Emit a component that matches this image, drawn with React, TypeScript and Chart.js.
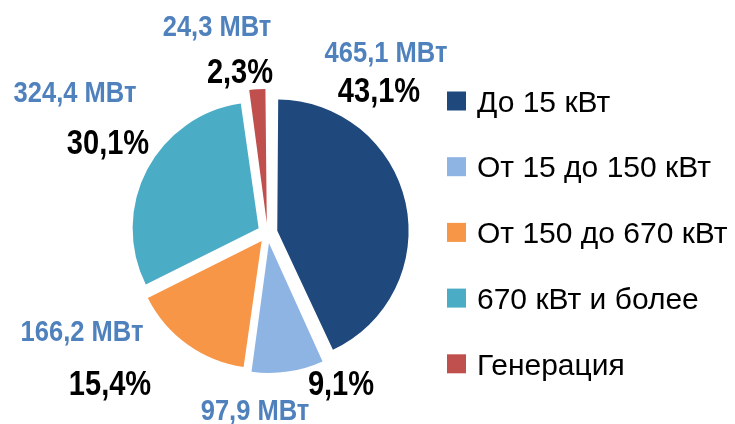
import React, { useEffect, useRef } from "react";
import { Chart, registerables } from "chart.js";

Chart.register(...registerables);

const categories = ["До 15 кВт", "От 15 до 150 кВт", "От 150 до 670 кВт", "670 кВт и более", "Генерация"];
const powerMW = [465.1, 97.9, 166.2, 324.4, 24.3];
const colors = ["#1F497D", "#8EB4E3", "#F79646", "#4BACC6", "#C0504D"];

// label anchor positions (centre x, cap-middle y) in canvas pixels
const valueLabelPos = [[386, 52], [255, 410], [82, 331], [75, 92], [217, 26]];
const pctLabelPos = [[379, 89], [341, 382], [110, 382], [108, 141], [240, 70]];

const W = 735;
const H = 424;
const PIE_CX = 267.5;
const PIE_CY = 233;
const PIE_R = 125.5;
const EXPLODE = 40; // chart.js offset (translates by offset/4)

const fmt = (v: number) => v.toFixed(1).replace(".", ",");

function condensedText(ctx: CanvasRenderingContext2D, text: string, x: number, y: number, sx: number) {
  ctx.save();
  ctx.translate(x, y);
  ctx.scale(sx, 1);
  ctx.fillText(text, 0, 0);
  ctx.restore();
}

const labelsPlugin = {
  id: "customLabels",
  afterDraw(chart: any) {
    const ctx = chart.ctx as CanvasRenderingContext2D;
    const total = powerMW.reduce((a, b) => a + b, 0);
    ctx.save();
    ctx.textAlign = "center";
    ctx.textBaseline = "alphabetic";
    powerMW.forEach((v, i) => {
      const vs = 29;
      ctx.font = `bold ${vs}px 'Liberation Sans', Arial, sans-serif`;
      ctx.fillStyle = "#4F81BD";
      condensedText(ctx, `${fmt(v)} МВт`, valueLabelPos[i][0], valueLabelPos[i][1] + vs * 0.358, 0.88);
      const ps = 35;
      ctx.font = `bold ${ps}px 'Liberation Sans', Arial, sans-serif`;
      ctx.fillStyle = "#000000";
      condensedText(ctx, `${fmt((v / total) * 100)}%`, pctLabelPos[i][0], pctLabelPos[i][1] + ps * 0.358, 0.83);
    });
    // legend
    const fs = 30;
    ctx.font = `${fs}px 'Liberation Sans', Arial, sans-serif`;
    ctx.textAlign = "left";
    categories.forEach((c, i) => {
      const cy = 101 + i * 65.7;
      ctx.fillStyle = colors[i];
      ctx.fillRect(447, cy - 9.5, 19, 19);
      ctx.fillStyle = "#000000";
      ctx.fillText(c, 477, cy + fs * 0.358);
    });
    ctx.restore();
  },
};

export default function App() {
  const ref = useRef<HTMLCanvasElement | null>(null);
  useEffect(() => {
    if (!ref.current) return;
    const S = 2 * PIE_R + EXPLODE;
    const chart = new Chart(ref.current, {
      type: "pie",
      data: {
        labels: categories,
        datasets: [
          {
            data: powerMW,
            backgroundColor: colors,
            borderWidth: 0,
            offset: EXPLODE,
            hoverOffset: 0,
          },
        ],
      },
      options: {
        animation: false,
        responsive: false,
        layout: {
          padding: {
            left: PIE_CX - S / 2,
            right: W - (PIE_CX + S / 2),
            top: PIE_CY - S / 2,
            bottom: H - (PIE_CY + S / 2),
          },
        },
        plugins: {
          legend: { display: false },
          tooltip: { enabled: false },
        },
      },
      plugins: [labelsPlugin],
    });
    return () => chart.destroy();
  }, []);
  return (
    <div style={{ position: "absolute", left: 0, top: 0, width: W, height: H, background: "#fff" }}>
      <canvas ref={ref} width={W} height={H} style={{ display: "block" }} />
    </div>
  );
}
